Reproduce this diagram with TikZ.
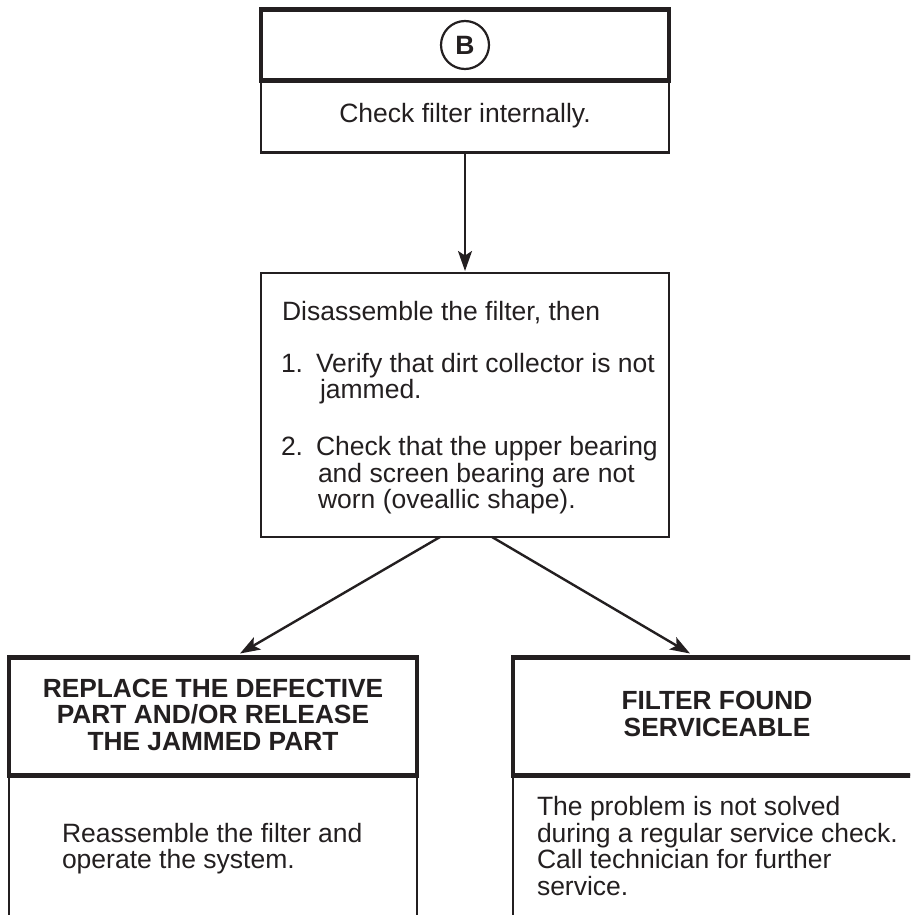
\documentclass[tikz,border=0pt]{standalone}
\usepackage{fontspec}
\setmainfont{Liberation Sans}
\usetikzlibrary{arrows.meta,calc}
\definecolor{ink}{RGB}{35,31,32}
\begin{document}
\begin{tikzpicture}[x=1pt,y=-1pt,
  thickbox/.style={draw=ink,line width=4.5pt,inner sep=0pt,outer sep=0pt,minimum width=408pt},
  thinbox/.style={draw=ink,line width=2.4pt,inner sep=0pt,outer sep=0pt,minimum width=408pt},
  txt/.style={text=ink,inner sep=0pt,outer sep=0pt,font=\fontsize{26.5}{27}\selectfont},
  btxt/.style={txt,font=\fontsize{26.3}{27}\selectfont\bfseries},
  arr/.style={draw=ink,line width=2.4pt,-{Stealth[length=20pt,width=14pt,inset=4.5pt]}}]
\useasboundingbox (0,0) rectangle (910,915);
\clip (0,0) rectangle (910,915);
% top box
\node[thinbox,minimum height=72pt] (topB) at (465,116.6) {};
\node[thickbox,minimum height=71pt] (topA) at (465,45.2) {};
\node[circle,draw=ink,line width=2.2pt,minimum size=48pt,inner sep=0pt,font=\fontsize{26.5}{27}\selectfont\bfseries,text=ink] (circB) at (465,45) {B};
\node[txt,anchor=base] (t0) at (465,123) {Check filter internally.};
% middle box
\node[thinbox,minimum height=264pt] (mid) at (465,405) {};
\node[txt,anchor=base west] (m1) at (282,320) {Disassemble the filter, then};
\node[txt,anchor=base west] (n1) at (281,372) {1.};
\node[txt,anchor=base west] (m2) at (316,372) {Verify that dirt collector is not};
\node[txt,anchor=base west] (m3) at (320,398) {jammed.};
\node[txt,anchor=base west] (n2) at (281,455) {2.};
\node[txt,anchor=base west] (m4) at (316,455) {Check that the upper bearing};
\node[txt,anchor=base west] (m5) at (318,482) {and screen bearing are not};
\node[txt,anchor=base west] (m6) at (318,508) {worn (oveallic shape).};
% left bottom box
\node[thinbox,minimum height=200pt] (lbody) at (213,875) {};
\node[thickbox,minimum height=118pt] (lhead) at (213,716.5) {};
\node[btxt,anchor=base] (l1) at (213,697) {REPLACE THE DEFECTIVE};
\node[btxt,anchor=base] (l2) at (213,723.5) {PART AND/OR RELEASE};
\node[btxt,anchor=base] (l3) at (213,750) {THE JAMMED PART};
\node[txt,anchor=base west] (lb1) at (62,842) {Reassemble the filter and};
\node[txt,anchor=base west] (lb2) at (62,868) {operate the system.};
% right bottom box
\node[thinbox,minimum height=200pt] (rbody) at (717,875) {};
\node[thickbox,minimum height=118pt] (rhead) at (717,716.5) {};
\node[btxt,anchor=base] (r1) at (717,709) {FILTER FOUND};
\node[btxt,anchor=base] (r2) at (717,736) {SERVICEABLE};
\node[txt,anchor=base west] (rb1) at (537,815) {The problem is not solved};
\node[txt,anchor=base west] (rb2) at (537,842) {during a regular service check.};
\node[txt,anchor=base west] (rb3) at (537,868) {Call technician for further};
\node[txt,anchor=base west] (rb4) at (537,895) {service.};
% connectors
\draw[arr] (topB.south) -- ($(mid.north)+(0,-2)$);
\draw[arr] ($(mid.south)+(-25,0)$) -- ($(lhead.north)+(27,-4)$);
\draw[arr] ($(mid.south)+(27,0)$) -- ($(rhead.north)+(-27,-4)$);
\end{tikzpicture}
\end{document}
